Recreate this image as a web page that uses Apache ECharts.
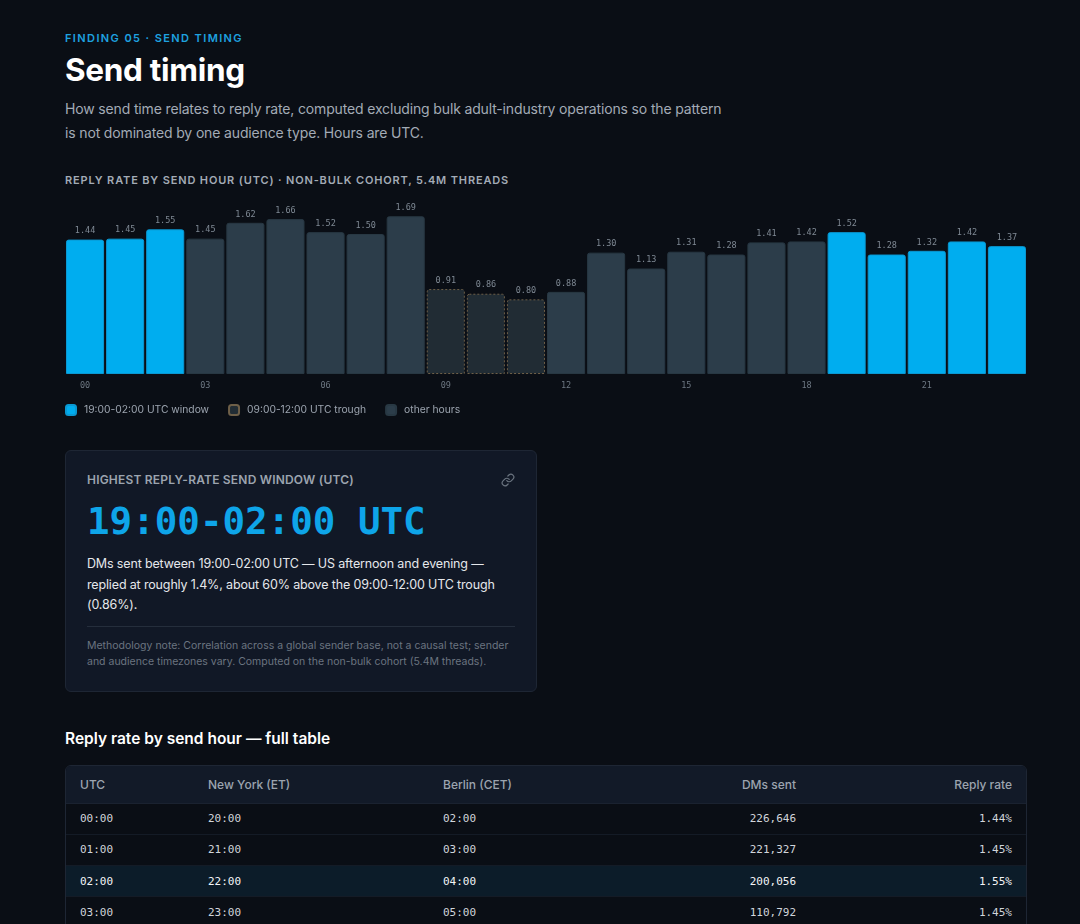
<!DOCTYPE html>
<html>
<head>
<meta charset="utf-8">
<title>Send timing</title>
<script src="https://cdn.jsdelivr.net/npm/echarts@6/dist/echarts.min.js"></script>
<style>
  * { box-sizing: border-box; }
  html, body {
    margin: 0;
    background: #0a0e15;
    color: #e5e7eb;
    font-family: Inter, "Noto Sans", sans-serif;
    overflow: hidden;
  }
  .page { padding: 0 53px 0 65px; width: 1080px; }
  .eyebrow {
    margin-top: 31px;
    font-size: 11px;
    line-height: 14px;
    font-weight: 600;
    letter-spacing: 1.4px;
    color: #1ea2e0;
  }
  h1 {
    margin: 5px 0 0;
    font-size: 31.5px;
    line-height: 40px;
    font-weight: 700;
    color: #fff;
    letter-spacing: -0.3px;
  }
  .lede {
    margin: 7px 0 0;
    max-width: 670px;
    font-size: 14px;
    letter-spacing: -0.15px;
    line-height: 24px;
    color: #a3abb6;
  }
  .chart-title {
    margin-top: 28px;
    font-size: 11px;
    line-height: 14px;
    font-weight: 600;
    letter-spacing: 0.85px;
    color: #a3abb6;
  }
  #chart { margin-top: 8px; width: 962px; height: 230px; }
  .card {
    margin-top: 25px;
    width: 472px;
    background: #111826;
    border: 1px solid #1e2634;
    border-radius: 6px;
    padding: 21px 21px 20px;
    position: relative;
  }
  .card-label {
    font-size: 12px;
    line-height: 16px;
    font-weight: 600;
    color: #9ca4af;
    letter-spacing: 0.2px;
  }
  .card-link { position: absolute; right: 21px; top: 22px; }
  .card-big {
    margin-top: 10px;
    font-family: "DejaVu Sans Mono", monospace;
    font-weight: 700;
    font-size: 37.5px;
    line-height: 46px;
    color: #0ea5e9;
  }
  .card-body {
    margin-top: 10px;
    font-size: 12.5px;
    letter-spacing: -0.15px;
    line-height: 20.5px;
    color: #e5e7eb;
  }
  .card-rule { margin-top: 10px; border-top: 1px solid #252e3c; }
  .card-note {
    margin-top: 11px;
    font-size: 10.5px;
    line-height: 16.5px;
    color: #6b7480;
  }
  h2 {
    margin: 37px 0 0;
    font-size: 15.5px;
    line-height: 20px;
    font-weight: 600;
    color: #fff;
  }
  table {
    margin-top: 16px;
    width: 962px;
    border-collapse: separate;
    border-spacing: 0;
    border: 1px solid #1e2634;
    border-radius: 6px;
    overflow: hidden;
  }
  th {
    background: #121a28;
    height: 38px;
    font-size: 12px;
    font-weight: 500;
    color: #9ca4af;
    text-align: left;
    padding: 0 14px;
    border-bottom: 1px solid #1a2230;
  }
  td {
    height: 31.3px;
    padding: 0 14px;
    font-family: "DejaVu Sans Mono", monospace;
    font-size: 11px;
    color: #d1d5db;
    border-bottom: 1px solid #141b26;
  }
  .num { text-align: right; }
  tr.hi td { background: #0c1c29; color: #f3f4f6; }
</style>
</head>
<body>
<div class="page">
  <div class="eyebrow">FINDING 05 · SEND TIMING</div>
  <h1>Send timing</h1>
  <p class="lede">How send time relates to reply rate, computed excluding bulk adult-industry operations so the pattern is not dominated by one audience type. Hours are UTC.</p>

  <div class="chart-title">REPLY RATE BY SEND HOUR (UTC) · NON-BULK COHORT, 5.4M THREADS</div>
  <div id="chart"></div>

  <div class="card">
    <div class="card-label">HIGHEST REPLY-RATE SEND WINDOW (UTC)</div>
    <svg class="card-link" width="14" height="14" viewBox="0 0 24 24" fill="none" stroke="#6b7480" stroke-width="2" stroke-linecap="round" stroke-linejoin="round">
      <path d="M10 13a5 5 0 0 0 7.54.54l3-3a5 5 0 0 0-7.07-7.07l-1.72 1.71"></path>
      <path d="M14 11a5 5 0 0 0-7.54-.54l-3 3a5 5 0 0 0 7.07 7.07l1.71-1.71"></path>
    </svg>
    <div class="card-big">19:00-02:00 UTC</div>
    <div class="card-body">DMs sent between 19:00-02:00 UTC — US afternoon and evening — replied at roughly 1.4%, about 60% above the 09:00-12:00 UTC trough (0.86%).</div>
    <div class="card-rule"></div>
    <div class="card-note">Methodology note: Correlation across a global sender base, not a causal test; sender and audience timezones vary. Computed on the non-bulk cohort (5.4M threads).</div>
  </div>

  <h2>Reply rate by send hour — full table</h2>
  <table id="tbl">
    <thead>
      <tr>
        <th style="width:128px">UTC</th>
        <th style="width:235px">New York (ET)</th>
        <th>Berlin (CET)</th>
        <th class="num" style="width:220px">DMs sent</th>
        <th class="num" style="width:216px">Reply rate</th>
      </tr>
    </thead>
    <tbody></tbody>
  </table>
</div>

<script>
  // 24 send hours, UTC
  const hours = ['00', '01', '02', '03', '04', '05', '06', '07', '08', '09', '10', '11',
    '12', '13', '14', '15', '16', '17', '18', '19', '20', '21', '22', '23'];
  const replyRate = [1.44, 1.45, 1.55, 1.45, 1.62, 1.66, 1.52, 1.50, 1.69, 0.91, 0.86, 0.80,
    0.88, 1.30, 1.13, 1.31, 1.28, 1.41, 1.42, 1.52, 1.28, 1.32, 1.42, 1.37];
  const windowHours = ['19', '20', '21', '22', '23', '00', '01', '02'];
  const troughHours = ['09', '10', '11'];

  // table rows visible in the reference
  const tableUtc = ['00:00', '01:00', '02:00', '03:00'];
  const tableNewYork = ['20:00', '21:00', '22:00', '23:00'];
  const tableBerlin = ['02:00', '03:00', '04:00', '05:00'];
  const dmsSent = [226646, 221327, 200056, 110792];
  const tableRate = [1.44, 1.45, 1.55, 1.45];
  const highlightRow = '02:00';

  const CYAN = '#00adef';
  const OTHER = '#2c3d4a';
  const TROUGH = '#212c34';
  const MONO = '"DejaVu Sans Mono", monospace';

  const pick = test => replyRate.map((v, i) => (test(hours[i]) ? v : '-'));
  const windowData = pick(h => windowHours.includes(h));
  const troughData = pick(h => troughHours.includes(h));
  const otherData = pick(h => !windowHours.includes(h) && !troughHours.includes(h));

  const label = {
    show: true,
    position: 'top',
    distance: 4,
    fontFamily: MONO,
    fontSize: 8.5,
    color: '#7f8994',
    formatter: p => p.value.toFixed(2)
  };

  const barBase = {
    type: 'bar',
    barGap: '-100%',
    barCategoryGap: '5%',
    label,
    emphasis: { disabled: true }
  };

  const myChart = echarts.init(document.getElementById('chart'));
  myChart.setOption({
    animation: false,
    grid: { left: 0, right: 0, top: 11, bottom: 51 },
    legend: {
      left: 0,
      top: 209,
      padding: 0,
      itemWidth: 10,
      itemHeight: 10,
      itemGap: 19,
      icon: 'roundRect',
      textStyle: { color: '#9ca4af', fontSize: 10.3, fontFamily: 'Inter', padding: [0, 0, 0, 3] },
      data: ['19:00-02:00 UTC window', '09:00-12:00 UTC trough', 'other hours']
    },
    xAxis: {
      type: 'category',
      data: hours,
      axisLine: { show: false },
      axisTick: { show: false },
      axisLabel: {
        interval: 2,
        margin: 7,
        fontFamily: MONO,
        fontSize: 8.5,
        color: '#6d7782'
      }
    },
    yAxis: {
      type: 'value',
      min: 0,
      max: 1.8,
      show: false,
      splitLine: { show: false }
    },
    series: [
      Object.assign({}, barBase, {
        name: '19:00-02:00 UTC window',
        data: windowData,
        itemStyle: { color: CYAN, borderColor: '#0a98d2', borderWidth: 1, borderRadius: [2, 2, 0, 0] }
      }),
      Object.assign({}, barBase, {
        name: '09:00-12:00 UTC trough',
        data: troughData,
        itemStyle: { color: TROUGH, borderColor: '#6e5f48', borderWidth: 1, borderType: [2, 2], borderRadius: [2, 2, 0, 0] }
      }),
      Object.assign({}, barBase, {
        name: 'other hours',
        data: otherData,
        itemStyle: { color: OTHER, borderColor: '#283843', borderWidth: 1, borderRadius: [2, 2, 0, 0] }
      })
    ]
  });

  // full table
  const tbody = document.querySelector('#tbl tbody');
  tableUtc.forEach((utc, i) => {
    const tr = document.createElement('tr');
    if (utc === highlightRow) tr.className = 'hi';
    tr.innerHTML =
      '<td>' + utc + '</td>' +
      '<td>' + tableNewYork[i] + '</td>' +
      '<td>' + tableBerlin[i] + '</td>' +
      '<td class="num">' + dmsSent[i].toLocaleString('en-US') + '</td>' +
      '<td class="num">' + tableRate[i].toFixed(2) + '%</td>';
    tbody.appendChild(tr);
  });
</script>
</body>
</html>
